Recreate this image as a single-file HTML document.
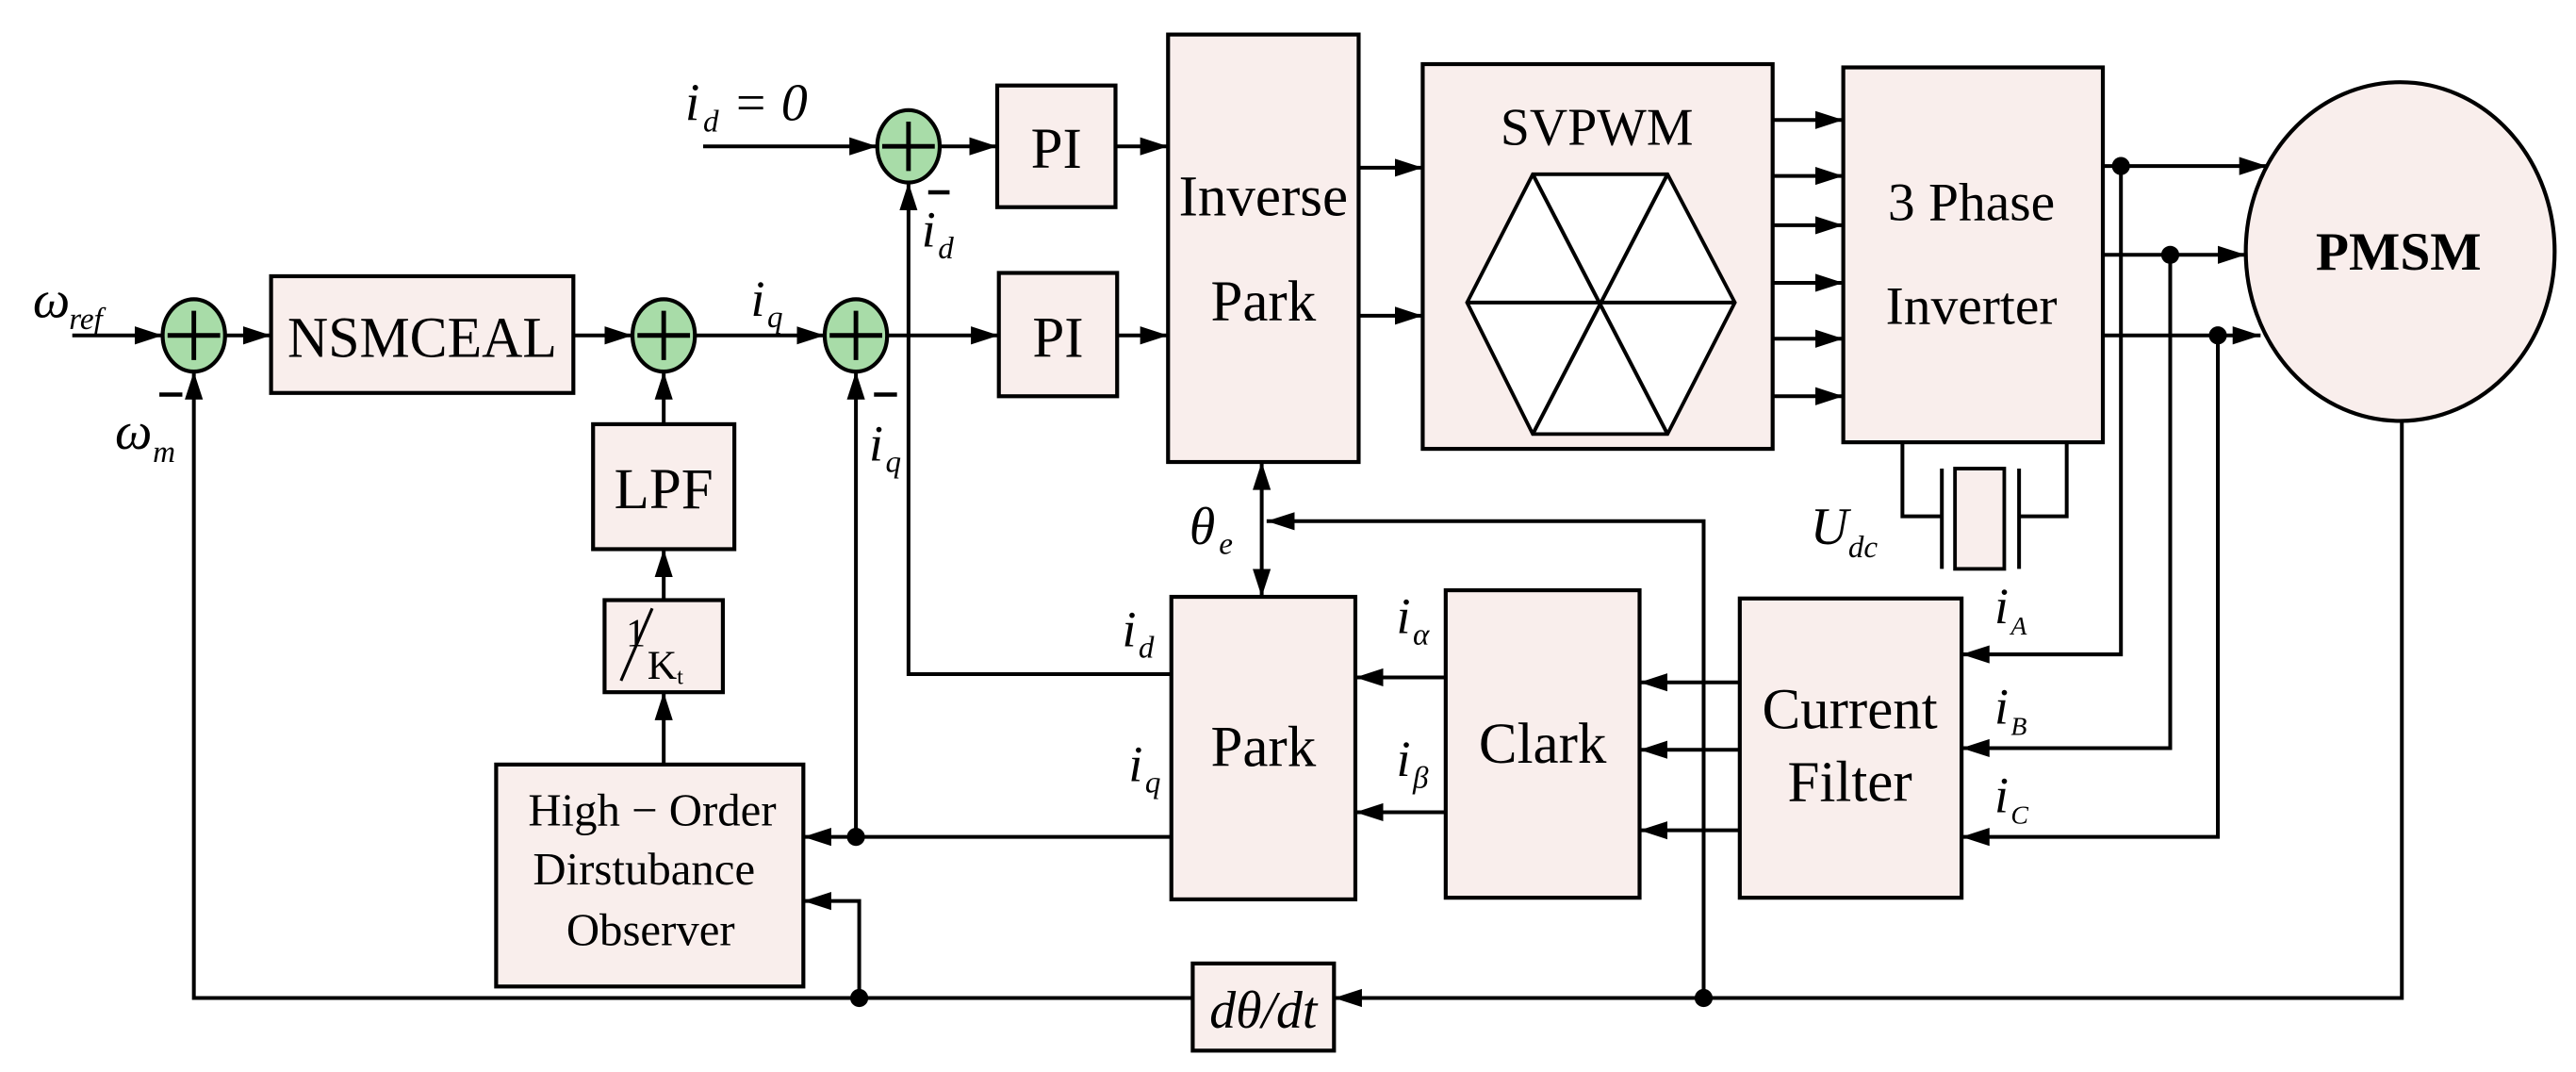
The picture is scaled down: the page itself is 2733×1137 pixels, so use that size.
<!DOCTYPE html>
<html><head><meta charset="utf-8"><style>
html,body{margin:0;padding:0;background:#fff;}
svg{display:block;}
text{font-family:"Liberation Serif",serif;fill:#000;}
.b{fill:#f9eeec;stroke:#000;stroke-width:2.4;}
.s{fill:#a8dca8;stroke:#000;stroke-width:2.4;}
.l{fill:none;stroke:#000;stroke-width:2.3;}
.t{font-size:35px;text-anchor:middle;}
.i{font-style:italic;font-size:31px;}
.sub{font-style:italic;font-size:19px;}
</style></head><body>
<svg width="2733" height="1137" viewBox="0 0 1568 652" preserveAspectRatio="none" xmlns="http://www.w3.org/2000/svg">
<defs>
<marker id="a" markerUnits="userSpaceOnUse" markerWidth="18" markerHeight="12" refX="17" refY="6" orient="auto">
<path d="M0,0.5 L17,6 L0,11.5 Z" fill="#000"/></marker>
<marker id="as" markerUnits="userSpaceOnUse" markerWidth="18" markerHeight="12" refX="0" refY="6" orient="auto">
<path d="M17,0.5 L0,6 L17,11.5 Z" fill="#000"/></marker>
</defs>

<rect class="b" x="165" y="168" width="184" height="71"/>
<text class="t" x="257" y="217" textLength="164" lengthAdjust="spacingAndGlyphs">NSMCEAL</text>
<rect class="b" x="361" y="258" width="86" height="76"/>
<text class="t" x="404" y="309">LPF</text>
<rect class="b" x="368" y="365" width="72" height="56"/>
<text x="381" y="393" style="font-size:24px">1</text>
<line class="l" x1="378" y1="414" x2="397" y2="370" style="stroke-width:1.8"/>
<text x="394" y="413" style="font-size:25px">K</text><text x="412" y="416" style="font-size:14px">t</text>
<rect class="b" x="302" y="465" width="187" height="135"/>
<text class="t" x="397" y="502" style="font-size:28px">High − Order</text>
<text class="t" x="392" y="538" style="font-size:28px">Dirstubance</text>
<text class="t" x="396" y="575" style="font-size:28px">Observer</text>
<rect class="b" x="607" y="52" width="72" height="74"/>
<text class="t" x="643" y="102">PI</text>
<rect class="b" x="608" y="166" width="72" height="75"/>
<text class="t" x="644" y="217">PI</text>
<rect class="b" x="711" y="21" width="116" height="260"/>
<text class="t" x="769" y="131">Inverse</text>
<text class="t" x="769" y="195">Park</text>
<rect class="b" x="713" y="363" width="112" height="184"/>
<text class="t" x="769" y="466">Park</text>
<rect class="b" x="726" y="586" width="86" height="53"/>
<text x="769" y="625" class="i" style="text-anchor:middle;font-size:32px">dθ/dt</text>
<rect class="b" x="866" y="39" width="213" height="234"/>
<text class="t" x="972" y="88" style="font-size:32px">SVPWM</text>
<polygon points="893,184 933,106 1015,106 1056,184 1015,264 933,264" fill="#fff" stroke="#000" stroke-width="2.2"/>
<line class="l" x1="893" y1="184" x2="1056" y2="184"/>
<line class="l" x1="933" y1="106" x2="1015" y2="264"/>
<line class="l" x1="1015" y1="106" x2="933" y2="264"/>
<rect class="b" x="1122" y="41" width="158" height="228"/>
<text class="t" x="1200" y="134" style="font-size:33px">3  Phase</text>
<text class="t" x="1200" y="197" style="font-size:33px">Inverter</text>
<ellipse class="b" cx="1461" cy="153" rx="94" ry="103"/>
<text class="t" x="1460" y="164" style="font-weight:bold;font-size:33px">PMSM</text>
<rect class="b" x="880" y="359" width="118" height="187"/>
<text class="t" x="939" y="464">Clark</text>
<rect class="b" x="1059" y="364" width="135" height="182"/>
<text class="t" x="1126" y="443">Current</text>
<text class="t" x="1126" y="487">Filter</text>

<polyline class="l" points="1158,269 1158,314 1182,314"/>
<polyline class="l" points="1258,269 1258,314 1229,314"/>
<line class="l" x1="1182" y1="285" x2="1182" y2="346"/>
<line class="l" x1="1229" y1="285" x2="1229" y2="346"/>
<rect class="b" x="1190" y="285" width="30" height="61" style="stroke-width:2.2"/>
<text class="i" x="1102" y="331" style="font-size:32px">U</text><text class="sub" x="1125" y="339">dc</text>

<g>
<ellipse class="s" cx="118" cy="204" rx="19" ry="22"/><path class="l" d="M102,204H134M118,189V219" style="stroke-width:2.8"/>
<ellipse class="s" cx="404" cy="204" rx="19" ry="22"/><path class="l" d="M388,204H420M404,189V219" style="stroke-width:2.8"/>
<ellipse class="s" cx="521" cy="204" rx="19" ry="22"/><path class="l" d="M505,204H537M521,189V219" style="stroke-width:2.8"/>
<ellipse class="s" cx="553" cy="89" rx="19" ry="22"/><path class="l" d="M537,89H569M553,74V104" style="stroke-width:2.8"/>
</g>

<line class="l" x1="44" y1="204" x2="99" y2="204" marker-end="url(#a)"/>
<line class="l" x1="137" y1="204" x2="165" y2="204" marker-end="url(#a)"/>
<line class="l" x1="349" y1="204" x2="385" y2="204" marker-end="url(#a)"/>
<line class="l" x1="423" y1="204" x2="502" y2="204" marker-end="url(#a)"/>
<line class="l" x1="540" y1="204" x2="608" y2="204" marker-end="url(#a)"/>
<line class="l" x1="428" y1="89" x2="534" y2="89" marker-end="url(#a)"/>
<line class="l" x1="572" y1="89" x2="607" y2="89" marker-end="url(#a)"/>
<line class="l" x1="679" y1="89" x2="711" y2="89" marker-end="url(#a)"/>
<line class="l" x1="680" y1="204" x2="711" y2="204" marker-end="url(#a)"/>
<line class="l" x1="827" y1="102" x2="866" y2="102" marker-end="url(#a)"/>
<line class="l" x1="827" y1="192" x2="866" y2="192" marker-end="url(#a)"/>
<g>
<line class="l" x1="1079" y1="73" x2="1122" y2="73" marker-end="url(#a)"/>
<line class="l" x1="1079" y1="107" x2="1122" y2="107" marker-end="url(#a)"/>
<line class="l" x1="1079" y1="137" x2="1122" y2="137" marker-end="url(#a)"/>
<line class="l" x1="1079" y1="172" x2="1122" y2="172" marker-end="url(#a)"/>
<line class="l" x1="1079" y1="206" x2="1122" y2="206" marker-end="url(#a)"/>
<line class="l" x1="1079" y1="241" x2="1122" y2="241" marker-end="url(#a)"/>
</g>
<line class="l" x1="1280" y1="101" x2="1380" y2="101" marker-end="url(#a)"/>
<line class="l" x1="1280" y1="155" x2="1367" y2="155" marker-end="url(#a)"/>
<line class="l" x1="1280" y1="204" x2="1376" y2="204" marker-end="url(#a)"/>
<circle cx="1291" cy="101" r="5.5"/><circle cx="1321" cy="155" r="5.5"/><circle cx="1350" cy="204" r="5.5"/>
<polyline class="l" points="1291,101 1291,398 1194,398" marker-end="url(#a)"/>
<polyline class="l" points="1321,155 1321,455 1194,455" marker-end="url(#a)"/>
<polyline class="l" points="1350,204 1350,509 1194,509" marker-end="url(#a)"/>
<line class="l" x1="1059" y1="415" x2="998" y2="415" marker-end="url(#a)"/>
<line class="l" x1="1059" y1="456" x2="998" y2="456" marker-end="url(#a)"/>
<line class="l" x1="1059" y1="505" x2="998" y2="505" marker-end="url(#a)"/>
<line class="l" x1="880" y1="412" x2="825" y2="412" marker-end="url(#a)"/>
<line class="l" x1="880" y1="494" x2="825" y2="494" marker-end="url(#a)"/>

<polyline class="l" points="713,410 553,410 553,111" marker-end="url(#a)"/>
<line class="l" x1="713" y1="509" x2="489" y2="509" marker-end="url(#a)"/>
<circle cx="521" cy="509" r="5.5"/>
<line class="l" x1="521" y1="509" x2="521" y2="226" marker-end="url(#a)"/>
<polyline class="l" points="1462,256 1462,607 812,607" marker-end="url(#a)"/>
<circle cx="1037" cy="607" r="5.5"/>
<polyline class="l" points="1037,607 1037,317 771,317" marker-end="url(#a)"/>
<line class="l" x1="768" y1="281" x2="768" y2="363" marker-start="url(#as)" marker-end="url(#a)"/>
<polyline class="l" points="726,607 118,607 118,226" marker-end="url(#a)"/>
<circle cx="523" cy="607" r="5.5"/>
<polyline class="l" points="523,607 523,548 489,548" marker-end="url(#a)"/>
<line class="l" x1="404" y1="465" x2="404" y2="421" marker-end="url(#a)"/>
<line class="l" x1="404" y1="365" x2="404" y2="334" marker-end="url(#a)"/>
<line class="l" x1="404" y1="258" x2="404" y2="226" marker-end="url(#a)"/>

<text class="i" x="20" y="193" style="font-size:32px">ω</text><text class="sub" x="42" y="200">ref</text>
<line class="l" x1="97" y1="240" x2="111" y2="240" style="stroke-width:2.6"/>
<text class="i" x="70" y="273" style="font-size:32px">ω</text><text class="sub" x="93" y="281">m</text>
<text class="i" x="457" y="192">i</text><text class="sub" x="467" y="199">q</text>
<line class="l" x1="532" y1="240" x2="546" y2="240" style="stroke-width:2.6"/>
<text class="i" x="529" y="280">i</text><text class="sub" x="539" y="287">q</text>
<line class="l" x1="565" y1="117" x2="578" y2="117" style="stroke-width:2.6"/>
<text class="i" x="561" y="150">i</text><text class="sub" x="571" y="157">d</text>
<text class="i" x="417" y="73" style="font-size:32px">i</text><text class="sub" x="428" y="80">d</text>
<text class="i" x="446" y="73" style="font-size:32px">= 0</text>
<text class="i" x="683" y="393">i</text><text class="sub" x="693" y="400">d</text>
<text class="i" x="687" y="475">i</text><text class="sub" x="697" y="482">q</text>
<text class="i" x="724" y="331" style="font-size:32px">θ</text><text class="sub" x="742" y="337">e</text>
<text class="i" x="850" y="385">i</text><text class="sub" x="860" y="392">α</text>
<text class="i" x="850" y="472">i</text><text class="sub" x="860" y="479">β</text>
<text class="i" x="1214" y="379">i</text><text class="sub" x="1224" y="386" style="font-size:16px">A</text>
<text class="i" x="1214" y="440">i</text><text class="sub" x="1224" y="447" style="font-size:16px">B</text>
<text class="i" x="1214" y="494">i</text><text class="sub" x="1224" y="501" style="font-size:16px">C</text>
</svg>
</body></html>
